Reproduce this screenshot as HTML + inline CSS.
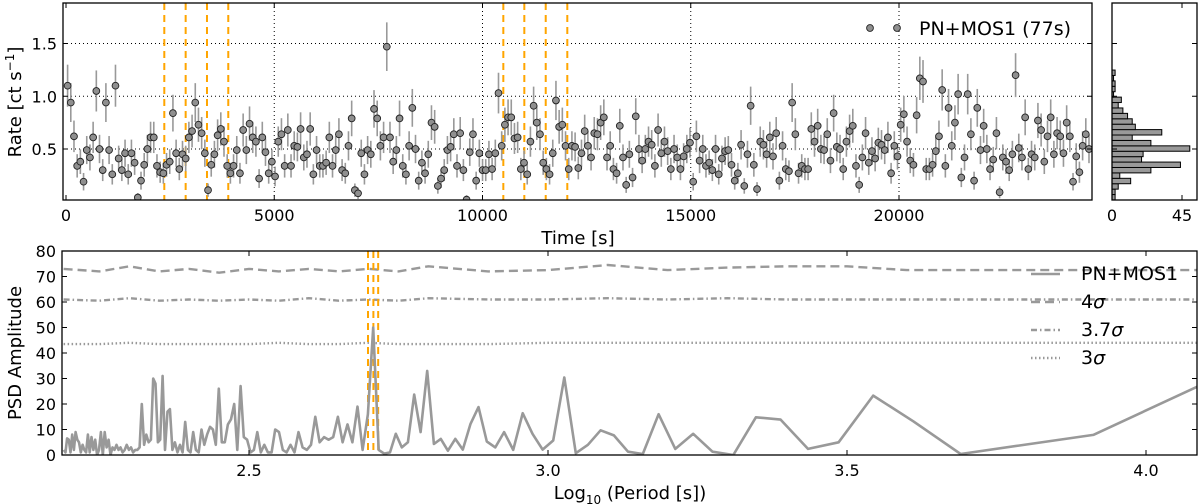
<!DOCTYPE html>
<html><head><meta charset="utf-8"><style>
html,body{margin:0;padding:0;background:#fff;}
svg{display:block;font-family:"DejaVu Sans","Liberation Sans",sans-serif;}
</style></head><body>
<svg id="chart" width="1200" height="504" viewBox="0 0 1200 504" xmlns="http://www.w3.org/2000/svg">
<defs>
<clipPath id="clipTop"><rect x="63" y="3" width="1029" height="197"/></clipPath>
<clipPath id="clipBot"><rect x="62" y="251" width="1135" height="204"/></clipPath>
</defs>
<g id="topPanel"></g>
<g id="histPanel"></g>
<g id="botPanel"></g>
</svg>
<script>
// ---------- light curve data ----------
const rates = [1.10,0.94,0.62,0.34,0.38,0.19,0.49,0.42,0.61,1.05,0.50,0.30,0.94,0.49,0.26,1.10,0.41,0.30,0.46,0.26,0.46,0.37,0.04,0.20,0.35,0.50,0.61,0.61,0.34,0.28,0.27,0.35,0.38,0.84,0.46,0.31,0.45,0.41,0.61,0.67,0.94,0.73,0.65,0.46,0.11,0.35,0.45,0.63,0.69,0.57,0.34,0.27,0.34,0.49,0.27,0.68,0.49,0.74,0.61,0.57,0.22,0.61,0.47,0.27,0.38,0.24,0.57,0.64,0.34,0.68,0.34,0.53,0.52,0.69,0.42,0.45,0.69,0.26,0.49,0.34,0.34,0.37,0.61,0.34,0.49,0.64,0.30,0.27,0.53,0.79,0.11,0.08,0.46,0.26,0.49,0.45,0.88,0.79,0.53,0.61,1.47,0.61,0.38,0.49,0.79,0.34,0.26,0.53,0.89,0.50,0.20,0.37,0.27,0.45,0.75,0.71,0.15,0.22,0.30,0.49,0.52,0.64,0.34,0.65,0.30,0.02,0.47,0.64,0.20,0.46,0.30,0.30,0.45,0.31,0.46,1.03,0.53,0.73,0.80,0.80,0.60,0.61,0.31,0.37,0.26,0.57,0.91,0.75,0.64,0.37,0.31,0.26,0.46,0.96,0.71,0.73,0.53,0.31,0.53,0.52,
0.32,0.46,0.67,0.53,0.42,0.65,0.64,0.75,0.80,0.42,0.53,0.31,0.27,0.72,0.42,0.16,0.45,0.23,0.81,0.50,0.39,0.50,0.57,0.54,0.34,0.68,0.46,0.57,0.48,0.31,0.50,0.42,0.31,0.43,0.50,0.56,0.19,0.62,0.39,0.50,0.34,0.37,0.30,0.50,0.26,0.41,0.48,0.49,0.35,0.20,0.27,0.54,0.15,0.45,0.91,0.35,0.12,0.57,0.54,0.45,0.61,0.43,0.65,0.20,0.53,0.31,0.29,0.94,0.64,0.27,0.34,0.31,0.31,0.69,0.57,0.72,0.50,0.49,0.64,0.39,0.84,0.52,0.50,0.31,0.57,0.67,0.72,0.34,0.16,0.42,0.65,0.37,0.48,0.41,0.56,0.54,0.49,0.61,0.27,0.53,0.43,0.73,0.83,0.57,0.39,0.35,0.82,1.17,1.14,0.31,0.31,0.35,0.48,0.62,1.06,0.34,0.89,0.53,0.75,1.02,0.23,0.42,1.02,0.64,0.20,0.89,0.49,0.72,0.50,0.31,0.40,0.65,0.09,0.42,0.38,0.30,0.45,1.20,0.51,0.42,0.80,0.31,0.45,0.42,0.77,0.68,0.38,0.62,0.80,0.45,0.65,0.62,0.46,0.75,0.62,0.19,0.43,0.28,0.53,0.64,0.50];
const obsSpan = 24600;
const timeTicks = [0,5000,10000,15000,20000];
const timeTickLabels = ["0","5000","10000","15000","20000"];
const rateTicks = [0.5,1.0,1.5];
const rateTickLabels = ["0.5","1.0","1.5"];
const pulseTimes = [2360,2873,3385,3896,10500,11004,11518,12036];
// ---------- histogram data ----------
const histEdgeStart = 0.017;
const histBinWidth = 0.0513;
const histCounts = [2,2,4,12,5,25,44,19,20,50,25,13,32,15,13,10,7,4,6,1,2,2,1,2];
const histTicks = [0,45];
// ---------- PSD data ----------
const psdBaseT = 24490;
const psdK0 = 2;
const psdAmp = [27,7.9,3.7,0.4,13.2,23.3,5,2.4,13.9,14.8,0,1.3,8.3,2.4,16,0.4,1.3,7.7,9.7,
4,0.7,30.4,5.7,2.1,8.3,16.4,2,9,3,5.3,18.8,12.2,2.1,6.3,1.7,6.3,4.3,
33,9,23.7,5,3,8.3,1,0.5,2,50,
16,2,19,5,12,5,15,7,6,7,5,15,4,2,3,9,1,4,1,2,9,10,1,1,4,1,9,2,1,6,7,27,2,20,14,12,5,5,26,4,10,11,8,4,10,1,2,9,1,2,13,1,4,1,5,2,18,17,2,31,6,5,28,30,6,5,8,4,20,
3,2,2,1,3,2,4,2,1,3,2,4,2,3,0,6,3,9,0,9,2,0,6,2,7,1,8,1,2,4,1,5,6,9,2,8,1,6,6.5,1,2];
const thrLog = [2.19,2.25,2.3,2.35,2.4,2.45,2.5,2.55,2.6,2.65,2.7,2.75,2.8,2.9,3.0,3.1,3.2,3.3,3.4,3.5,3.6,3.7,3.8,3.9,4.09];
const sig4 = [73,72,74,72,73,71.5,73,72,73,72,73,72,74,72,72.5,74.5,72.5,73.5,74,74,72.5,72.5,72.5,72.5,72.5];
const sig37 = [61,60.5,61.5,60.5,61,60.5,61,60.5,61.5,60.5,61,60.5,61.5,61,61,61.5,61,61.5,61,61,61,61,61,61,61];
const sig3 = [43.5,43.5,44,43.5,43.5,43.5,43.5,44,43.5,43.5,44,43.5,43.5,43.5,44,44,44,44,44,44,44,44,44,44,44];
const periodMarks = [2.699,2.708,2.716];
const psdXTicks = [2.5,3.0,3.5,4.0];
const psdXTickLabels = ["2.5","3.0","3.5","4.0"];
const psdYTicks = [0,10,20,30,40,50,60,70,80];

const NS = "http://www.w3.org/2000/svg";
function mk(parent, tag, attrs, text){
  const e = document.createElementNS(NS, tag);
  for (const k in attrs) e.setAttribute(k, attrs[k]);
  if (text !== undefined) e.textContent = text;
  parent.appendChild(e);
  return e;
}
const xT = t => 66 + t * 0.04165;
const yR = v => 149 - (v - 0.5) * 105.5;
const xH = c => 1112 + c * 70 / 45;
const xP = l => 249 + (l - 2.5) * 598;
const yP = a => 455 - a * 2.55;

// ===== TOP PANEL =====
const gTop = document.getElementById('topPanel');
timeTicks.forEach((t,i)=>{
  if (i===0) return;
  const g = mk(gTop,'line',{x1:xT(t),x2:xT(t),y1:3,y2:200,stroke:'#000','stroke-width':1,'stroke-dasharray':'1,3'});
  
  
});
rateTicks.forEach(v=>{
  const g = mk(gTop,'line',{x1:63,x2:1092,y1:yR(v),y2:yR(v),stroke:'#000','stroke-width':1,'stroke-dasharray':'1,3'});
  
  
});
pulseTimes.forEach(t=>{
  const l = mk(gTop,'line',{x1:xT(t),x2:xT(t),y1:3,y2:200,stroke:'#ffa500','stroke-width':2,'stroke-dasharray':'7,5'});
  
  
});
const pts = mk(gTop,'g',{'clip-path':'url(#clipTop)'});


const N = rates.length;
rates.forEach((v,i)=>{
  const t = (i + 0.5) * obsSpan / N;
  const err = 0.19 * Math.sqrt(Math.max(v,0.05));
  const eb = mk(pts,'line',{x1:xT(t),x2:xT(t),y1:yR(v+err),y2:yR(v-err),stroke:'#999','stroke-width':1.6});
  
  
});
rates.forEach((v,i)=>{
  const t = (i + 0.5) * obsSpan / N;
  const c = mk(pts,'circle',{cx:xT(t),cy:yR(v),r:3.4,fill:'#8f8f8f',stroke:'#222','stroke-width':0.9});
  
  
});
const fr = mk(gTop,'rect',{x:63,y:3,width:1029,height:197,fill:'none',stroke:'#000','stroke-width':1.3});


timeTicks.forEach((t,i)=>{
  mk(gTop,'line',{x1:xT(t),x2:xT(t),y1:200,y2:195,stroke:'#000'});
  mk(gTop,'line',{x1:xT(t),x2:xT(t),y1:3,y2:8,stroke:'#000'});
  const tl = mk(gTop,'text',{x:xT(t),y:221,'font-size':16,'text-anchor':'middle',fill:'#000'},timeTickLabels[i]);
  
  
});
rateTicks.forEach((v,i)=>{
  mk(gTop,'line',{x1:63,x2:68,y1:yR(v),y2:yR(v),stroke:'#000'});
  mk(gTop,'line',{x1:1092,x2:1087,y1:yR(v),y2:yR(v),stroke:'#000'});
  const tl = mk(gTop,'text',{x:57,y:yR(v)+6,'font-size':16,'text-anchor':'end',fill:'#000'},rateTickLabels[i]);
  
  
});
const xl = mk(gTop,'text',{x:578,y:244,'font-size':18,'text-anchor':'middle'},'Time [s]');


const yl = mk(gTop,'text',{transform:'translate(21,102) rotate(-90)','font-size':18,'text-anchor':'middle'});


mk(yl,'tspan',{},'Rate [ct s');
mk(yl,'tspan',{'font-size':12,dy:-7},'−1');
mk(yl,'tspan',{dy:7},']');
const lg = mk(gTop,'g',{});


mk(lg,'circle',{cx:870,cy:28,r:3.4,fill:'#8f8f8f',stroke:'#222','stroke-width':0.9});
mk(lg,'circle',{cx:897,cy:28,r:3.4,fill:'#8f8f8f',stroke:'#222','stroke-width':0.9});
mk(lg,'text',{x:919,y:35,'font-size':19},'PN+MOS1 (77s)');

// ===== HISTOGRAM =====
const gHist = document.getElementById('histPanel');
histCounts.forEach((c,i)=>{
  const lo = histEdgeStart + i*histBinWidth, hi = lo + histBinWidth;
  if (c<=0) return;
  const r = mk(gHist,'rect',{x:xH(0),y:yR(hi),width:xH(c)-xH(0),height:yR(lo)-yR(hi),fill:'#999',stroke:'#000','stroke-width':1});
  
  
});
const hf = mk(gHist,'rect',{x:1112,y:3,width:85,height:197,fill:'none',stroke:'#000','stroke-width':1.3});


rateTicks.forEach(v=>{
  mk(gHist,'line',{x1:1112,x2:1117,y1:yR(v),y2:yR(v),stroke:'#000'});
  mk(gHist,'line',{x1:1197,x2:1192,y1:yR(v),y2:yR(v),stroke:'#000'});
});
histTicks.forEach(c=>{
  mk(gHist,'line',{x1:xH(c),x2:xH(c),y1:200,y2:195,stroke:'#000'});
  mk(gHist,'line',{x1:xH(c),x2:xH(c),y1:3,y2:8,stroke:'#000'});
  const tl = mk(gHist,'text',{x:xH(c),y:221,'font-size':16,'text-anchor':'middle'},String(c));
  
  
});

// ===== PSD PANEL =====
const gBot = document.getElementById('botPanel');
const clipG = mk(gBot,'g',{'clip-path':'url(#clipBot)'});
function thrLine(arr, dash, name){
  const d = arr.map((a,i)=>(i?'L':'M')+xP(thrLog[i]).toFixed(1)+','+yP(a).toFixed(1)).join(' ');
  const p = mk(clipG,'path',{d:d,fill:'none',stroke:'#999','stroke-width':2.4,'stroke-dasharray':dash});
  
  
}
thrLine(sig4,'9,5','threshold-4sigma');
thrLine(sig37,'6,3,1.5,3','threshold-3-7sigma');
thrLine(sig3,'1.5,2.5','threshold-3sigma');
periodMarks.forEach(l=>{
  const m = mk(clipG,'line',{x1:xP(l),x2:xP(l),y1:251,y2:455,stroke:'#ffa500','stroke-width':2,'stroke-dasharray':'7,5'});
  
  
});
const psdPts = psdAmp.map((a,i)=>[Math.log10(psdBaseT/(i+psdK0)), a]).sort((p,q)=>p[0]-q[0]);
const psdPath = mk(clipG,'path',{d:psdPts.map((p,i)=>(i?'L':'M')+xP(p[0]).toFixed(1)+','+yP(p[1]).toFixed(1)).join(' '),fill:'none',stroke:'#999','stroke-width':2.6,'stroke-linejoin':'round'});


const bf = mk(gBot,'rect',{x:62,y:251,width:1135,height:204,fill:'none',stroke:'#000','stroke-width':1.3});


psdXTicks.forEach((l,i)=>{
  mk(gBot,'line',{x1:xP(l),x2:xP(l),y1:455,y2:450,stroke:'#000'});
  mk(gBot,'line',{x1:xP(l),x2:xP(l),y1:251,y2:256,stroke:'#000'});
  const tl = mk(gBot,'text',{x:xP(l),y:476,'font-size':16,'text-anchor':'middle'},psdXTickLabels[i]);
  
  
});
psdYTicks.forEach(a=>{
  mk(gBot,'line',{x1:62,x2:67,y1:yP(a),y2:yP(a),stroke:'#000'});
  mk(gBot,'line',{x1:1197,x2:1192,y1:yP(a),y2:yP(a),stroke:'#000'});
  const tl = mk(gBot,'text',{x:56,y:yP(a)+6,'font-size':16,'text-anchor':'end'},String(a));
  
  
});
const bx = mk(gBot,'text',{x:630,y:499,'font-size':18,'text-anchor':'middle'});


mk(bx,'tspan',{},'Log');
mk(bx,'tspan',{'font-size':12,dy:5},'10');
mk(bx,'tspan',{dy:-5},' (Period [s])');
const by = mk(gBot,'text',{transform:'translate(21,353) rotate(-90)','font-size':18,'text-anchor':'middle'},'PSD Amplitude');


const bl = mk(gBot,'g',{});


const legItems = [['PN+MOS1','none',280],['4σ','9,5',308],['3.7σ','6,3,1.5,3',336],['3σ','1.5,2.5',364]];
legItems.forEach(it=>{
  mk(bl,'line',{x1:1031,x2:1060,y1:it[2]-6,y2:it[2]-6,stroke:'#999','stroke-width':2.4,'stroke-dasharray':it[1]});
  const t = mk(bl,'text',{x:1081,y:it[2],'font-size':19},'');
  if (it[0]==='PN+MOS1') t.textContent='PN+MOS1';
  else { mk(t,'tspan',{},it[0].slice(0,-1)); mk(t,'tspan',{'font-style':'italic'},'σ'); }
});
</script>
</body></html>
